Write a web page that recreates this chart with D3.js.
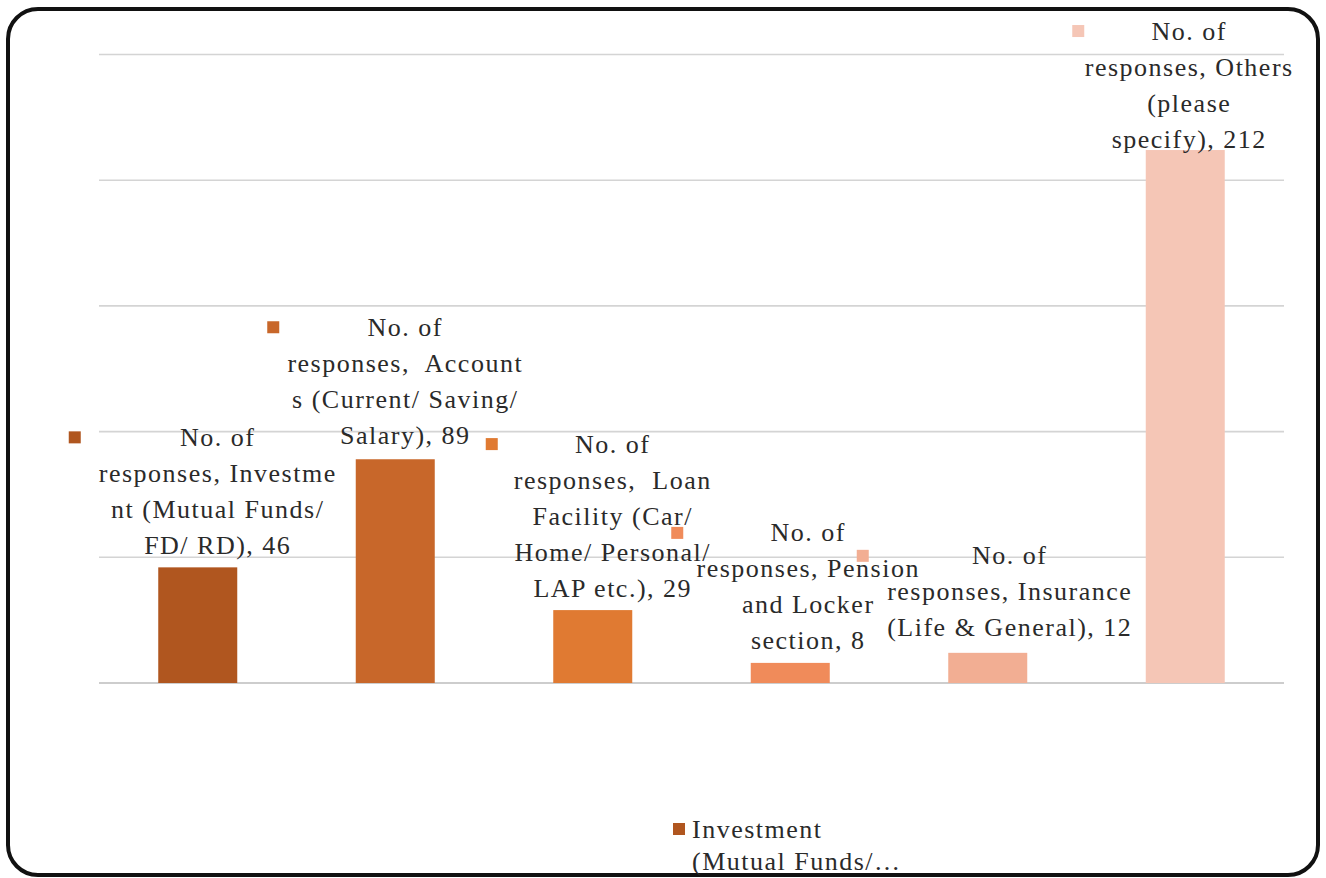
<!DOCTYPE html>
<html>
<head>
<meta charset="utf-8">
<script src="https://cdn.jsdelivr.net/npm/d3@7"></script>
<style>
  html, body { margin: 0; padding: 0; background: #fff; }
  svg { display: block; }
</style>
</head>
<body>
<svg id="chart" width="1326" height="878"></svg>
<script>
// Service categories and number of responses
const categories = [
  "Investment (Mutual Funds/ FD/ RD)",
  "Accounts (Current/ Saving/ Salary)",
  "Loan Facility (Car/ Home/ Personal/ LAP etc.)",
  "Pension and Locker section",
  "Insurance (Life & General)",
  "Others (please specify)"
];
const responses = [46, 89, 29, 8, 12, 212];
const yTicks = [0, 50, 100, 150, 200, 250];
const barColors = ["#b0561f", "#c8672a", "#e07a32", "#f08b5a", "#f2ae93", "#f5c6b6"];

// Data label lines, as wrapped in the chart
const labelLines = [
  ["No. of", "responses, Investme", "nt (Mutual Funds/", "FD/ RD), 46"],
  ["No. of", "responses,  Account", "s (Current/ Saving/", "Salary), 89"],
  ["No. of", "responses,  Loan", "Facility (Car/", "Home/ Personal/", "LAP etc.), 29"],
  ["No. of", "responses, Pension", "and Locker", "section, 8"],
  ["No. of", "responses, Insurance", "(Life & General), 12"],
  ["No. of", "responses, Others", "(please", "specify), 212"]
];
const legendLines = ["Investment", "(Mutual Funds/\u2026"];

// Layout
const W = 1326, H = 878;
const plot = { left: 99, right: 1284, top: 54.5, bottom: 683 };
const FONT = "Liberation Serif";

// Label placement: offset of the text centre from the bar centre,
// offset of the first line from the bar top, and legend-key offset
const labelPlace = [
  { dx: 20, dy: -130, kx: -143 },
  { dx: 10, dy: -132, kx: -132 },
  { dx: 20, dy: -166, kx: -121 },
  { dx: 18, dy: -130, kx: -131 },
  { dx: 22, dy: -97,  kx: -147 },
  { dx: 4,  dy: -119, kx: -111 }
];

const svg = d3.select("#chart");

// Rounded chart frame
svg.append("rect")
  .attr("x", 8).attr("y", 9)
  .attr("width", W - 16).attr("height", H - 12)
  .attr("rx", 30).attr("ry", 30)
  .attr("fill", "#fff")
  .attr("stroke", "#111")
  .attr("stroke-width", 4);

const x = d3.scaleBand()
  .domain(categories)
  .range([plot.left, plot.right])
  .paddingInner(0)
  .paddingOuter(0);

const y = d3.scaleLinear()
  .domain([0, 250])
  .range([plot.bottom, plot.top]);

// Horizontal gridlines
svg.append("g")
  .selectAll("line")
  .data(yTicks)
  .join("line")
  .attr("x1", plot.left).attr("x2", plot.right)
  .attr("y1", d => y(d)).attr("y2", d => y(d))
  .attr("stroke", d => d === 0 ? "#bdbdbd" : "#d4d4d4")
  .attr("stroke-width", 1.6);

const barW = x.bandwidth() * 0.4;
const cx = c => x(c) + x.bandwidth() / 2;

// Bars
svg.append("g")
  .selectAll("rect")
  .data(categories)
  .join("rect")
  .attr("x", c => cx(c) - barW / 2)
  .attr("width", barW)
  .attr("y", (c, i) => y(responses[i]))
  .attr("height", (c, i) => y(0) - y(responses[i]))
  .attr("fill", (c, i) => barColors[i]);

// Data labels with legend keys
const fontSize = 26;
const spacing = 1.5;
const lineH = 36;
const labels = svg.append("g");
categories.forEach((c, i) => {
  const p = labelPlace[i];
  const tx = cx(c) + p.dx;
  const ty = y(responses[i]) + p.dy;
  labels.append("rect")
    .attr("x", tx + p.kx - 6).attr("y", ty - 6)
    .attr("width", 12).attr("height", 12)
    .attr("fill", barColors[i]);
  const t = labels.append("text")
    .attr("text-anchor", "middle")
    .attr("font-family", FONT)
    .attr("fill", "#2a2a2a")
    .attr("letter-spacing", spacing)
    .attr("font-size", fontSize);
  labelLines[i].forEach((ln, j) => {
    t.append("tspan")
      .attr("x", tx)
      .attr("y", ty + j * lineH)
      .attr("dy", "0.33em")
      .style("white-space", "pre")
      .text(ln);
  });
});

// Legend (truncated, first series only)
const lg = svg.append("g").attr("transform", "translate(679,829)");
lg.append("rect")
  .attr("x", -6).attr("y", -6)
  .attr("width", 12).attr("height", 12)
  .attr("fill", barColors[0]);
const lt = lg.append("text")
  .attr("font-family", FONT)
  .attr("fill", "#2a2a2a")
  .attr("letter-spacing", spacing)
  .attr("font-size", fontSize);
legendLines.forEach((ln, j) => {
  lt.append("tspan")
    .attr("x", 13)
    .attr("y", j * 32)
    .attr("dy", "0.33em")
    .text(ln);
});
</script>
</body>
</html>
